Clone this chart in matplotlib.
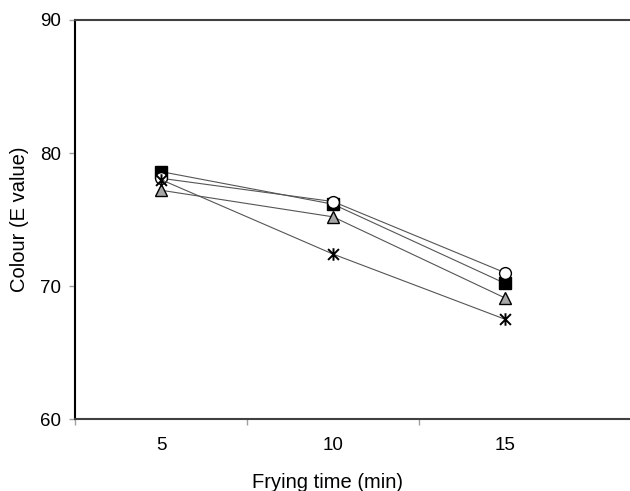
#!/usr/bin/env python
"""Colour (E value) of fried samples against frying time."""

import matplotlib
matplotlib.use("Agg")
import matplotlib.pyplot as plt
from matplotlib.path import Path
import numpy as np

plt.rcParams['font.family'] = ['Liberation Sans', 'DejaVu Sans']

#------
# Data
#------
frying_time = ['5', '10', '15']
series_square = [78.6, 76.15, 70.2]
series_circle = [78.1, 76.35, 71.0]
series_triangle = [77.2, 75.2, 69.1]
series_star = [78.0, 72.4, 67.5]

# Excel-style star: an X with a vertical bar through it
star = Path([(-1, -1), (1, 1), (-1, 1), (1, -1), (0, -1.15), (0, 1.15)],
            [Path.MOVETO, Path.LINETO, Path.MOVETO, Path.LINETO,
             Path.MOVETO, Path.LINETO])

#---------
# Plotting
#---------
fig = plt.figure(figsize=(6.30, 4.91), dpi=100)
ax = fig.add_axes([75 / 630, 1 - 419 / 491, 555 / 630, 399 / 491])

x = np.arange(len(frying_time)) + 0.5
line_kw = dict(color='#555555', linewidth=0.8, markersize=8.5,
               markeredgecolor='black', markeredgewidth=1.0)

ax.plot(x, series_square, marker='s', markerfacecolor='black', **line_kw)
ax.plot(x, series_circle, marker='o', markerfacecolor='white', **line_kw)
ax.plot(x, series_triangle, marker='^', markerfacecolor='#a6a6a6', **line_kw)
ax.plot(x, series_star, marker=star, markersize=9, color='#555555',
        linewidth=0.8, markeredgecolor='black', markeredgewidth=1.4)

ax.set_xlim(0, 555 / 172)
ax.set_ylim(60, 90)

# category axis: ticks between categories, labels at centres
ax.set_xticks([0, 1, 2])
ax.set_xticklabels([])
ax.set_xticks(x, minor=True)
ax.set_xticklabels(frying_time, minor=True, fontsize=13.5)
ax.tick_params(axis='x', which='major', direction='out', length=4,
               color='#a0a0a0', width=1)
ax.tick_params(axis='x', which='minor', length=0, pad=13)

ax.set_yticks([60, 70, 80, 90])
ax.tick_params(axis='y', direction='out', length=4, color='#a0a0a0',
               width=1, labelsize=13.5, pad=6)

for side in ['top', 'bottom']:
    ax.spines[side].set_color('#404040')
    ax.spines[side].set_linewidth(1.5)
ax.spines['left'].set_color('black')
ax.spines['left'].set_linewidth(1.5)
ax.spines['right'].set_visible(False)

ax.set_ylabel('Colour (E value)', fontsize=14.5, va='center')
ax.yaxis.set_label_coords(-(75 - 20) / 555, 0.5)
ax.set_xlabel('Frying time (min)', fontsize=14.5, va='center')
ax.xaxis.set_label_coords((327 - 75) / 555, -(482 - 419) / 399)

fig.savefig('out.png', dpi=100)
